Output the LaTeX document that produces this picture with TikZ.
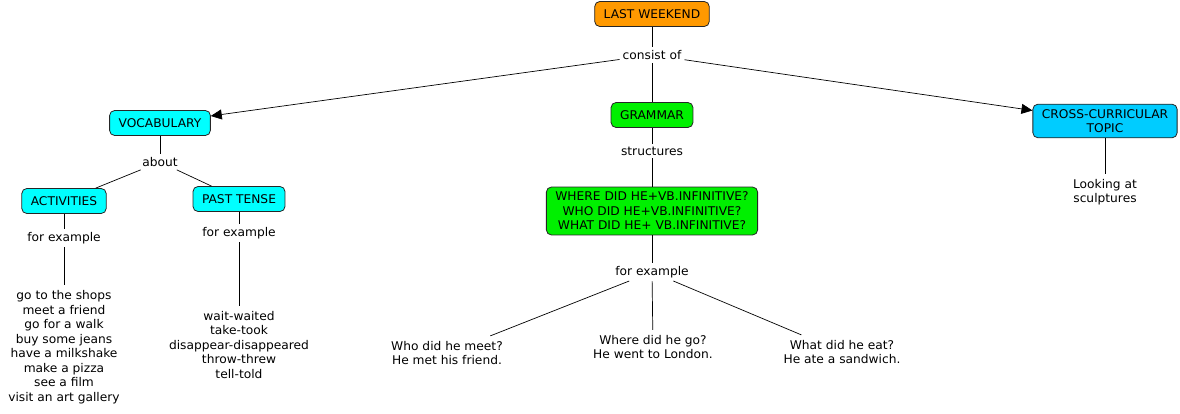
\documentclass[tikz,border=0pt]{standalone}
\usepackage{fontspec}
\setmainfont{DejaVu Sans}[FakeStretch=1.02]
\usetikzlibrary{arrows.meta}

\definecolor{lworange}{HTML}{FF9900}
\definecolor{vocabcyan}{HTML}{00FFFF}
\definecolor{grammargreen}{HTML}{00F000}
\definecolor{topicblue}{HTML}{00CCFF}

\begin{document}
\begin{tikzpicture}[x=1pt,y=-1pt,
    font=\fontsize{12}{14.5}\selectfont,
    concept/.style={draw=black!85,rounded corners=5pt,line width=0.8pt,
        inner xsep=9pt,inner ysep=4pt,minimum height=25pt,align=center},
    linkword/.style={fill=white,inner sep=3pt},
    leaf/.style={inner sep=5pt,align=center},
    conn/.style={line width=0.7pt},
    arr/.style={conn,-{Triangle[length=11pt,width=10pt]}}]
    \useasboundingbox (0,0) rectangle (1180,414);

    \node[concept,fill=lworange] (lw) at (652,14) {LAST WEEKEND};
    \node[linkword] (consist) at (652,55) {consist of};

    \node[concept,fill=vocabcyan] (vocab) at (160,123) {VOCABULARY};
    \node[concept,fill=grammargreen] (grammar) at (652,115) {GRAMMAR};
    \node[concept,fill=topicblue,inner ysep=5pt] (cross) at (1105,121) {CROSS-CURRICULAR\\TOPIC};

    \node[linkword] (about) at (160,162) {about};
    \node[concept,fill=vocabcyan] (activ) at (64,201) {ACTIVITIES};
    \node[concept,fill=vocabcyan] (past) at (239,199) {PAST TENSE};
    \node[linkword] (forexA) at (64,238) {for example};
    \node[linkword] (forexP) at (239,233) {for example};
    \node[leaf] (listA) at (64,347) {go to the shops\\meet a friend\\go for a walk\\buy some jeans\\have a milkshake\\make a pizza\\see a film\\visit an art gallery};
    \node[leaf] (listP) at (239,345) {wait-waited\\take-took\\disappear-disappeared\\throw-threw\\tell-told};

    \node[linkword] (struct) at (652,151) {structures};
    \node[concept,fill=grammargreen,inner ysep=5pt] (where) at (652,211) {WHERE DID HE+VB.INFINITIVE?\\WHO DID HE+VB.INFINITIVE?\\WHAT DID HE+ VB.INFINITIVE?};
    \node[linkword] (forexG) at (652,272) {for example};
    \node[leaf] (who) at (447,353) {Who did he meet?\\He met his friend.};
    \node[leaf] (wherego) at (653,347) {Where did he go?\\He went to London.};
    \node[leaf] (what) at (842,352) {What did he eat?\\He ate a sandwich.};

    \node[leaf] (sculpt) at (1105,192) {Looking at\\sculptures};

    \draw[conn] (lw) -- (consist);
    \draw[arr] (consist) -- (vocab);
    \draw[conn] (consist) -- (grammar);
    \draw[arr] (consist) -- (cross);

    \draw[conn] (vocab) -- (about);
    \draw[conn] (about) -- (activ);
    \draw[conn] (about) -- (past);
    \draw[conn] (activ) -- (forexA);
    \draw[conn] (forexA) -- (listA);
    \draw[conn] (past) -- (forexP);
    \draw[conn] (forexP) -- (listP);

    \draw[conn] (grammar) -- (struct);
    \draw[conn] (struct) -- (where);
    \draw[conn] (where) -- (forexG);
    \foreach \ex in {who,wherego,what}
        \draw[conn] (forexG) -- (\ex);

    \draw[conn] (cross) -- (sculpt);
\end{tikzpicture}
\end{document}
